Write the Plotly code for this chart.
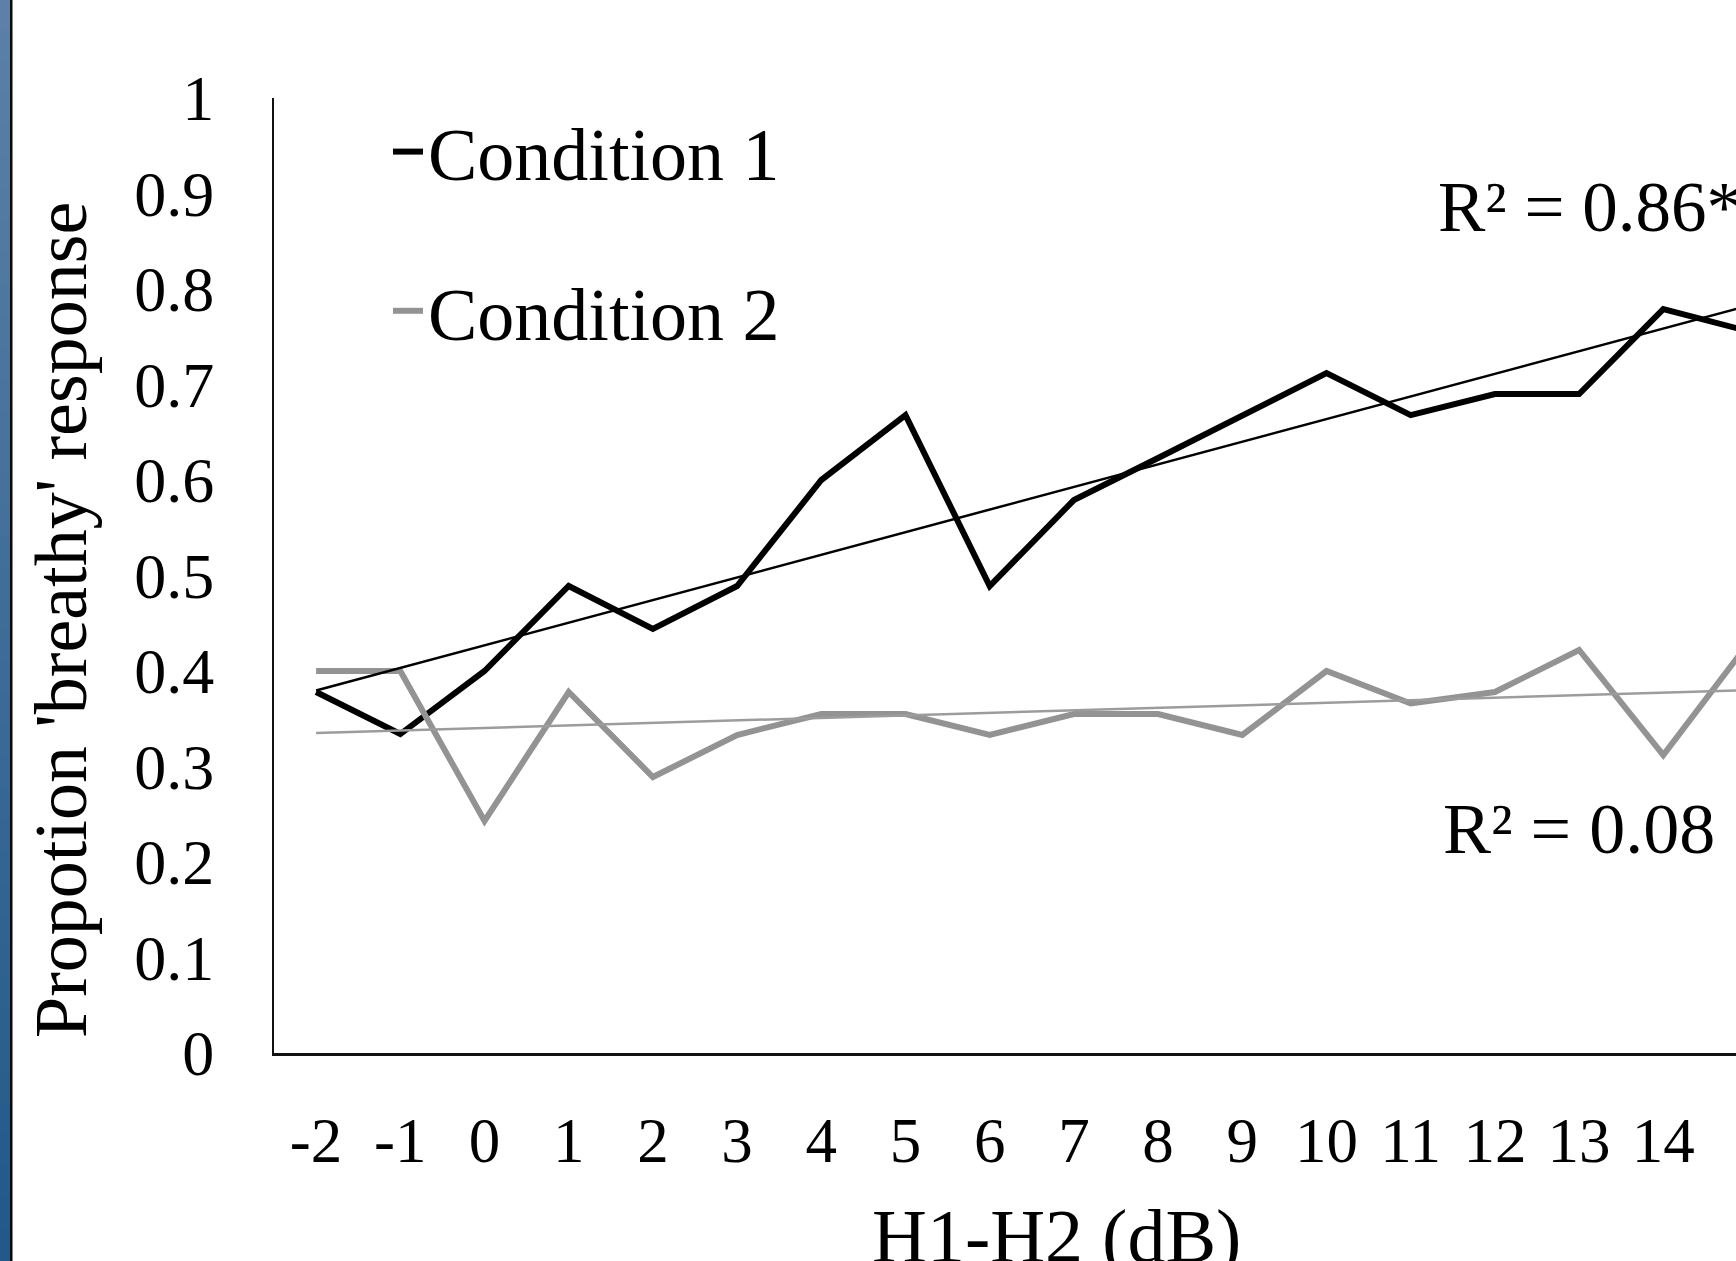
import numpy as np
import plotly.graph_objects as go

# ---- data ----
h1h2_db = [-2, -1, 0, 1, 2, 3, 4, 5, 6, 7, 8, 9, 10, 11, 12, 13, 14, 15]
condition_1 = [0.378, 0.334, 0.400, 0.489, 0.444, 0.489, 0.600, 0.668, 0.489,
               0.579, 0.623, 0.668, 0.712, 0.668, 0.690, 0.690, 0.779, 0.756]
condition_2 = [0.400, 0.400, 0.243, 0.378, 0.289, 0.333, 0.355, 0.355, 0.333,
               0.355, 0.355, 0.333, 0.400, 0.366, 0.378, 0.422, 0.312, 0.428]
series_names = ["Condition 1", "Condition 2"]
r2_labels = ["R² = 0.86*", "R² = 0.08"]
y_ticks = [0, 0.1, 0.2, 0.3, 0.4, 0.5, 0.6, 0.7, 0.8, 0.9, 1]
x_title = "H1-H2 (dB)"
y_title = "Propotion 'breathy' response"

FONT = "Liberation Serif, Times New Roman, serif"
W, H = 1736, 1261
L, R, T, B = 274, 0, 98, 208
PW = W - L - R
PH = H - T - B
STEP = 84.2  # px per category


def px_to_paper_x(px):
    return (px - L) / PW


def px_to_paper_y(py):
    return (H - B - py) / PH


x = np.array(h1h2_db, dtype=float)
fig = go.Figure()

colors = ["#000000", "#939393"]
trend_colors = ["#000000", "#9c9c9c"]
for i, (name, vals) in enumerate(zip(series_names, [condition_1, condition_2])):
    fig.add_trace(go.Scatter(
        x=h1h2_db, y=vals, mode="lines", name=name,
        line=dict(color=colors[i], width=6), legendgroup=name,
    ))
for i, vals in enumerate([condition_1, condition_2]):
    slope, icpt = np.polyfit(x, np.array(vals), 1)
    fig.add_trace(go.Scatter(
        x=[x[0], x[-1]], y=[slope * x[0] + icpt, slope * x[-1] + icpt],
        mode="lines", showlegend=False, hoverinfo="skip",
        legendgroup=series_names[i],
        line=dict(color=trend_colors[i], width=2.5),
    ))

xmax = -2.5 + PW / STEP

fig.update_layout(
    width=W, height=H,
    margin=dict(l=L, r=R, t=T, b=B, pad=0),
    paper_bgcolor="white", plot_bgcolor="white",
    font=dict(family=FONT, color="black"),
    showlegend=True,
    legend=dict(
        x=px_to_paper_x(388), y=px_to_paper_y(97), xanchor="left", yanchor="top",
        font=dict(family=FONT, size=74, color="black"),
        bgcolor="rgba(0,0,0,0)", tracegroupgap=60, traceorder="grouped",
    ),
    xaxis=dict(
        range=[-2.5, xmax], tickmode="array", tickvals=h1h2_db,
        ticktext=[str(v) for v in h1h2_db],
        showgrid=False, zeroline=False, showline=True, linecolor="#111111",
        linewidth=3, ticks="", tickfont=dict(family=FONT, size=63, color="black"),
        ticklabelstandoff=30,
    ),
    yaxis=dict(
        range=[0, 1], tickmode="array", tickvals=y_ticks,
        ticktext=[("%g" % v) for v in y_ticks],
        showgrid=False, zeroline=False, showline=True, linecolor="#111111",
        linewidth=2, ticks="", tickfont=dict(family=FONT, size=64, color="black"),
        ticklabelstandoff=45,
    ),
)

annotations = [
    dict(text=y_title, xref="paper", yref="paper", x=px_to_paper_x(61),
         y=px_to_paper_y(620), textangle=-90, xanchor="center", yanchor="middle",
         showarrow=False, font=dict(family=FONT, size=74, color="black")),
    dict(text=x_title, xref="paper", yref="paper", x=px_to_paper_x(1056),
         y=px_to_paper_y(1236), xanchor="center", yanchor="middle",
         showarrow=False, font=dict(family=FONT, size=76, color="black")),
    dict(text=r2_labels[0], xref="paper", yref="paper", x=px_to_paper_x(1436),
         y=px_to_paper_y(207), xanchor="left", yanchor="middle",
         showarrow=False, font=dict(family=FONT, size=71, color="black")),
    dict(text=r2_labels[1], xref="paper", yref="paper", x=px_to_paper_x(1441),
         y=px_to_paper_y(829), xanchor="left", yanchor="middle",
         showarrow=False, font=dict(family=FONT, size=72, color="black")),
]
fig.update_layout(annotations=annotations)

# decorative slide edge: blue gradient strip + dark rule
shapes = []
n = 40
top = np.array([0x5c, 0x80, 0xa7])
bot = np.array([0x22, 0x59, 0x8a])
for k in range(n):
    c = top + (bot - top) * (k / (n - 1))
    y0 = H * k / n
    y1 = H * (k + 1) / n + 1
    shapes.append(dict(type="rect", xref="paper", yref="paper",
                       x0=px_to_paper_x(0), x1=px_to_paper_x(10),
                       y0=px_to_paper_y(y1), y1=px_to_paper_y(y0),
                       line=dict(width=0), layer="above",
                       fillcolor="rgb(%d,%d,%d)" % tuple(int(v) for v in c)))
shapes.append(dict(type="rect", xref="paper", yref="paper",
                   x0=px_to_paper_x(10), x1=px_to_paper_x(12.5),
                   y0=px_to_paper_y(H), y1=px_to_paper_y(0),
                   line=dict(width=0), fillcolor="#0a0a0a", layer="above"))
fig.update_layout(shapes=shapes)

fig.write_html("out.html")
